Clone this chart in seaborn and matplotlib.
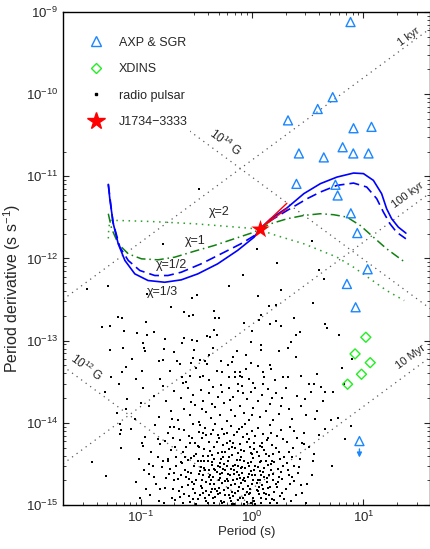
import numpy as np
import matplotlib
matplotlib.use("Agg")
import matplotlib.pyplot as plt
from matplotlib.lines import Line2D
from matplotlib.patches import Rectangle
from matplotlib.ticker import NullFormatter
import seaborn as sns

# ---------------- data ----------------
# AXP & SGR: period (s), period derivative
axp_P = [7.65, 5.29, 3.88, 2.10, 8.14, 11.8, 2.63, 4.4, 6.5, 8.1, 11.1,
         2.5, 5.6, 5.86, 7.7, 8.8, 10.9, 7.1, 8.5]
axp_Pdot = [7.55e-10, 9.2e-11, 6.6e-11, 4.8e-11, 3.85e-11, 4.0e-11, 1.9e-11,
            1.7e-11, 2.26e-11, 1.9e-11, 1.9e-11, 8.1e-12, 7.9e-12, 5.85e-12,
            3.55e-12, 2.04e-12, 7.4e-13, 4.9e-13, 2.55e-13]
# upper limit
axp_ul_P = [9.2]
axp_ul_Pdot = [6.0e-15]

# XDINS
xdins_P = [10.5, 8.4, 11.5, 9.6, 7.2]
xdins_Pdot = [1.1e-13, 6.9e-14, 5.4e-14, 3.9e-14, 2.95e-14]

# J1734-3333
star_P = 1.17
star_Pdot = 2.28e-12
# braking index range lines from the star
red_P = [1.17, 2.05]
red_Pdot_hi = [2.28e-12, 4.7e-12]
red_Pdot_lo = [2.28e-12, 4.05e-12]

# model tracks (log10 P, log10 Pdot)
chi13_logP = [-1.292, -1.277, -1.247, -1.203, -1.143, -1.054, -0.935, -0.786, -0.637,
              -0.488, -0.310, -0.131, 0.018, 0.068, 0.167, 0.315, 0.464, 0.613, 0.762,
              0.911, 1.000, 1.089, 1.163, 1.208, 1.253, 1.313, 1.381]
chi13_logPd = [-11.098, -11.293, -11.577, -11.821, -12.024, -12.187, -12.268, -12.289,
               -12.260, -12.187, -12.065, -11.902, -11.740, -11.642, -11.516, -11.382,
               -11.211, -11.089, -11.009, -10.960, -10.967, -11.049, -11.211, -11.394,
               -11.516, -11.618, -11.691]
chi12_logP = [-1.292, -1.250, -1.188, -1.113, -1.009, -0.875, -0.756, -0.637, -0.458,
              -0.279, -0.101, 0.047, 0.068, 0.167, 0.315, 0.494, 0.613, 0.762, 0.911,
              1.029, 1.119, 1.179, 1.238, 1.297, 1.381]
chi12_logPd = [-11.098, -11.560, -11.862, -12.024, -12.146, -12.207, -12.207, -12.167,
               -12.065, -11.943, -11.821, -11.699, -11.642, -11.537, -11.415, -11.272,
               -11.191, -11.110, -11.082, -11.130, -11.272, -11.435, -11.577, -11.679,
               -11.760]
chi1_logP = [-1.292, -1.262, -1.203, -1.113, -0.994, -0.846, -0.696, -0.518, -0.339,
             -0.161, 0.018, 0.068, 0.167, 0.315, 0.464, 0.613, 0.732, 0.851, 0.971,
             1.089, 1.208, 1.372]
chi1_logPd = [-11.455, -11.638, -11.821, -11.943, -12.004, -12.016, -11.984, -11.911,
              -11.841, -11.760, -11.679, -11.642, -11.577, -11.516, -11.476, -11.455,
              -11.467, -11.496, -11.598, -11.740, -11.882, -12.045]
chi2_logP = [-1.292, -1.288, -1.277, -1.205, -0.920, -0.518, -0.161, 0.068, 0.167, 0.315,
             0.464, 0.613, 0.762, 0.911, 1.060, 1.208, 1.366]
chi2_logPd = [-11.756, -11.634, -11.537, -11.537, -11.549, -11.577, -11.616, -11.642,
              -11.699, -11.760, -11.821, -11.902, -11.984, -12.106, -12.248, -12.390,
              -12.512]

# reference lines
ages_yr = [1e3, 1e5, 1e7]
fields_G = [1e12, 1e14]

# radio pulsars (log10 P, log10 Pdot)
psr_upper = [(-0.473, -11.15), (-0.801, -11.821), (0.047, -11.882), (0.538, -11.789),
             (-1.292, -12.329), (-1.479, -12.37), (0.226, -12.057), (-0.08, -12.195),
             (-0.208, -12.338), (0.604, -12.134), (0.643, -12.248)]
psr_mid = [(-0.944, -12.43), (-0.726, -12.594), (-0.616, -12.655), (-1.203, -12.707),
           (-1.167, -12.723), (-1.277, -12.817), (-1.346, -12.838), (-0.949, -12.777),
           (-1.152, -12.878), (-1.038, -12.911), (-0.884, -12.89), (-0.944, -12.927),
           (-0.979, -13.033), (-0.973, -13.089), (-0.779, -12.979), (-0.631, -13.033),
           (-0.616, -12.967), (-1.277, -13.113), (-1.158, -13.089), (-0.958, -13.13),
           (-0.795, -13.101), (-0.705, -13.143), (-1.078, -13.223), (-0.839, -13.244),
           (-0.804, -13.235), (-0.676, -13.244), (-0.646, -13.284), (-1.137, -13.317),
           (-0.988, -13.366), (-1.167, -13.387), (-0.735, -13.366), (-0.631, -13.448),
           (-1.271, -13.448), (-1.047, -13.467), (-0.824, -13.467), (-0.592, -13.509),
           (-1.196, -13.528),
           (-0.491, -12.443), (-0.542, -12.484), (0.054, -12.455), (0.262, -12.378),
           (0.149, -12.582), (0.217, -12.565), (-0.342, -12.643), (-0.533, -12.683),
           (-0.571, -12.695), (-0.333, -12.723), (-0.297, -12.723), (0.078, -12.683),
           (0.06, -12.744), (-0.071, -12.789), (0.158, -12.796), (0.212, -12.756),
           (0.262, -12.817), (0.375, -12.728), (0.003, -12.878), (-0.339, -12.866),
           (-0.313, -12.927), (-0.408, -12.948), (-0.378, -12.96), (0.431, -12.89),
           (0.39, -12.927), (-0.536, -12.991), (-0.497, -13.009), (-0.012, -13.012),
           (0.078, -13.052), (0.346, -13.021), (-0.348, -13.089), (-0.14, -13.122),
           (0.083, -13.113), (0.238, -13.122), (0.321, -13.089), (-0.518, -13.113),
           (-0.384, -13.174), (-0.051, -13.171), (-0.176, -13.204), (0.396, -13.195),
           (-0.529, -13.216), (-0.467, -13.232), (-0.422, -13.244), (-0.279, -13.244),
           (-0.408, -13.284), (-0.547, -13.277), (-0.006, -13.277), (-0.221, -13.296),
           (-0.185, -13.256), (0.054, -13.305), (0.158, -13.296), (-0.506, -13.333),
           (-0.319, -13.366), (-0.274, -13.387), (-0.154, -13.387), (-0.11, -13.378),
           (-0.051, -13.345), (0.098, -13.387), (0.167, -13.345), (-0.11, -13.427),
           (-0.087, -13.448), (-0.154, -13.448), (-0.438, -13.427), (-0.467, -13.448),
           (-0.556, -13.427), (-0.384, -13.479), (-0.205, -13.448), (-0.029, -13.467),
           (0.009, -13.521), (0.107, -13.448), (0.208, -13.476), (0.277, -13.448),
           (0.321, -13.448), (0.44, -13.427), (0.515, -13.528), (-0.131, -13.528),
           (0.545, -12.545), (0.658, -12.796), (0.67, -12.85), (0.783, -12.927),
           (0.896, -13.228), (0.806, -13.333), (0.58, -13.406), (0.828, -13.528)]
psr_edge = [(0.554, -13.53), (0.658, -13.62), (0.723, -13.62), (0.479, -13.71),
            (0.569, -13.955), (0.771, -13.94), (0.89, -14.04), (0.658, -14.08),
            (0.83, -14.2), (0.464, -14.26), (0.36, -14.42), (0.717, -14.52), (0.55, -14.46),
            (-1.44, -14.48), (-1.31, -14.65), (-0.99, -14.25), (-1.19, -14.14),
            (-1.18, -14.09), (-0.93, -14.5), (-1.01, -14.91), (-1.13, -13.83),
            (-1.19, -14.02), (-0.85, -14.2), (-0.74, -14.05), (-0.76, -14.46)]
psr_band_a = [(-1.32, -13.62), (-1.21, -13.88), (-1.12, -13.71), (-1.05, -13.95), (-0.98, -13.58),
              (-0.93, -13.8), (-0.88, -13.67), (-0.84, -13.93), (-0.8, -13.55), (-0.77, -13.74),
              (-0.73, -13.86), (-0.7, -13.61), (-0.67, -13.97), (-0.64, -13.7), (-0.61, -13.83),
              (-0.58, -13.57), (-0.56, -13.91), (-0.53, -13.66), (-0.51, -13.78), (-0.48, -13.99),
              (-0.46, -13.6), (-0.44, -13.73), (-0.41, -13.87), (-0.39, -13.64), (-0.37, -13.94),
              (-0.35, -13.56), (-0.33, -13.81), (-0.31, -13.69), (-0.29, -13.9), (-0.27, -13.62),
              (-0.25, -13.76), (-0.23, -13.98), (-0.21, -13.58), (-0.19, -13.84), (-0.17, -13.68),
              (-0.15, -13.92), (-0.13, -13.61), (-0.11, -13.79), (-0.09, -13.55), (-0.07, -13.88),
              (-0.05, -13.71), (-0.03, -13.96), (-0.01, -13.63), (0.01, -13.82), (0.03, -13.57),
              (0.05, -13.74), (0.07, -13.93), (0.09, -13.66), (0.12, -13.85), (0.14, -13.59),
              (0.16, -13.77), (0.19, -13.97), (0.21, -13.64), (0.24, -13.89), (0.27, -13.7),
              (0.3, -13.58), (0.33, -13.83), (0.36, -13.95), (0.4, -13.67), (0.44, -13.79),
              (0.48, -13.91), (0.53, -13.62), (0.58, -13.86), (0.64, -13.73), (0.71, -13.97),
              (-0.62, -13.52), (-0.28, -13.54), (0.1, -13.53), (-0.45, -13.83), (-0.2, -13.72),
              (0.0, -13.9), (-0.36, -13.77), (-0.08, -13.64), (0.18, -13.7), (-0.55, -13.75),
              (0.26, -13.8), (-0.72, -13.95), (-1.0, -13.76), (0.62, -13.56)]
psr_band_b = [(-1.18, -14.31), (-1.09, -14.08), (-1.02, -14.44), (-0.96, -14.17), (-0.91, -14.36),
              (-0.87, -14.03), (-0.83, -14.26), (-0.8, -14.47), (-0.76, -14.12), (-0.73, -14.33),
              (-0.7, -14.05), (-0.68, -14.41), (-0.65, -14.21), (-0.63, -14.49), (-0.61, -14.09),
              (-0.59, -14.3), (-0.57, -14.16), (-0.55, -14.43), (-0.53, -14.02), (-0.51, -14.25),
              (-0.5, -14.38), (-0.48, -14.11), (-0.46, -14.46), (-0.45, -14.19), (-0.43, -14.32),
              (-0.42, -14.06), (-0.4, -14.4), (-0.39, -14.23), (-0.37, -14.14), (-0.36, -14.48),
              (-0.34, -14.29), (-0.33, -14.01), (-0.31, -14.37), (-0.3, -14.18), (-0.28, -14.44),
              (-0.27, -14.08), (-0.26, -14.27), (-0.24, -14.35), (-0.23, -14.12), (-0.22, -14.47),
              (-0.2, -14.22), (-0.19, -14.04), (-0.18, -14.39), (-0.16, -14.15), (-0.15, -14.31),
              (-0.14, -14.45), (-0.12, -14.07), (-0.11, -14.26), (-0.1, -14.41), (-0.08, -14.17),
              (-0.07, -14.34), (-0.06, -14.02), (-0.04, -14.49), (-0.03, -14.2), (-0.02, -14.3),
              (0.0, -14.1), (0.01, -14.43), (0.02, -14.24), (0.04, -14.36), (0.05, -14.06),
              (0.07, -14.28), (0.08, -14.46), (0.1, -14.13), (0.11, -14.33), (0.13, -14.21),
              (0.15, -14.4), (0.16, -14.03), (0.18, -14.27), (0.2, -14.48), (0.22, -14.16),
              (0.24, -14.35), (0.26, -14.09), (0.29, -14.42), (0.31, -14.23), (0.34, -14.05),
              (0.37, -14.31), (0.4, -14.19), (0.43, -14.44), (0.47, -14.12), (0.51, -14.29),
              (0.56, -14.38), (0.6, -14.15),
              (-0.98, -14.28), (-0.85, -14.41), (-0.78, -14.22), (-0.71, -14.18), (-0.66, -14.07),
              (-0.62, -14.35), (-0.58, -14.45), (-0.54, -14.18), (-0.49, -14.28), (-0.47, -14.03),
              (-0.44, -14.4), (-0.41, -14.15), (-0.38, -14.34), (-0.35, -14.09), (-0.32, -14.23),
              (-0.29, -14.49), (-0.25, -14.14), (-0.21, -14.32), (-0.17, -14.25), (-0.13, -14.37),
              (-0.09, -14.05), (-0.05, -14.23), (-0.01, -14.37), (0.03, -14.16), (0.06, -14.4),
              (0.09, -14.25), (0.12, -14.47), (0.17, -14.12), (0.21, -14.31), (0.25, -14.44),
              (0.28, -14.2), (0.33, -14.36), (0.38, -14.1), (0.45, -14.25), (-0.26, -14.42),
              (-0.4, -14.47), (-0.14, -14.11), (0.14, -14.19), (-0.56, -14.24), (-0.69, -14.29),
              (-0.48, -14.29), (-0.36, -14.39), (-0.23, -14.24), (-0.11, -14.45), (0.0, -14.38),
              (0.09, -14.29), (-0.31, -14.15), (-0.18, -14.3), (-0.05, -14.14), (0.19, -14.38),
              (-0.6, -14.42), (-0.44, -14.12), (-0.64, -14.48)]
psr_band_c = [(-1.04, -14.72), (-0.97, -14.58), (-0.92, -14.88), (-0.88, -14.66), (-0.84, -14.95),
              (-0.81, -14.54), (-0.78, -14.79), (-0.75, -14.62), (-0.72, -14.91), (-0.7, -14.7),
              (-0.68, -14.52), (-0.66, -14.83), (-0.64, -14.64), (-0.62, -14.97), (-0.6, -14.57),
              (-0.58, -14.76), (-0.57, -14.89), (-0.55, -14.61), (-0.53, -14.81), (-0.52, -14.53),
              (-0.5, -14.69), (-0.49, -14.93), (-0.47, -14.59), (-0.46, -14.77), (-0.44, -14.86),
              (-0.43, -14.55), (-0.41, -14.72), (-0.4, -14.98), (-0.38, -14.63), (-0.37, -14.84),
              (-0.36, -14.51), (-0.34, -14.74), (-0.33, -14.9), (-0.32, -14.6), (-0.3, -14.79),
              (-0.29, -14.67), (-0.28, -14.95), (-0.26, -14.56), (-0.25, -14.82), (-0.24, -14.71),
              (-0.23, -14.53), (-0.21, -14.88), (-0.2, -14.64), (-0.19, -14.76), (-0.18, -14.99),
              (-0.16, -14.58), (-0.15, -14.85), (-0.14, -14.68), (-0.13, -14.52), (-0.11, -14.92),
              (-0.1, -14.73), (-0.09, -14.61), (-0.08, -14.8), (-0.06, -14.55), (-0.05, -14.96),
              (-0.04, -14.66), (-0.03, -14.87), (-0.01, -14.59), (0.0, -14.75), (0.01, -14.91),
              (0.03, -14.63), (0.04, -14.82), (0.05, -14.54), (0.07, -14.7), (0.08, -14.97),
              (0.1, -14.6), (0.11, -14.85), (0.13, -14.67), (0.14, -14.51), (0.16, -14.78),
              (0.18, -14.93), (0.19, -14.62), (0.21, -14.74), (0.23, -14.56), (0.25, -14.89),
              (0.27, -14.68), (0.3, -14.8), (0.32, -14.58), (0.35, -14.95), (0.38, -14.71),
              (0.41, -14.61), (0.45, -14.86), (0.49, -14.74), (0.54, -14.64),
              (-0.95, -14.81), (-0.86, -14.74), (-0.79, -14.98), (-0.74, -14.56), (-0.71, -14.81),
              (-0.67, -14.68), (-0.63, -14.78), (-0.59, -14.66), (-0.56, -14.96), (-0.54, -14.72),
              (-0.51, -14.85), (-0.48, -14.62), (-0.45, -14.7), (-0.42, -14.91), (-0.39, -14.57),
              (-0.35, -14.66), (-0.31, -14.87), (-0.27, -14.73), (-0.22, -14.62), (-0.17, -14.69),
              (-0.12, -14.78), (-0.07, -14.67), (-0.02, -14.8), (0.02, -14.57), (0.06, -14.87),
              (0.09, -14.76), (0.12, -14.93), (0.15, -14.64), (0.2, -14.84), (0.24, -14.66),
              (0.28, -14.53), (0.34, -14.75), (0.39, -14.88), (-0.46, -14.54), (-0.34, -14.97),
              (-0.2, -14.92), (-0.09, -14.54), (0.05, -14.69), (0.17, -14.57), (-0.61, -14.87),
              (-0.44, -14.64), (-0.41, -14.83), (-0.38, -14.75), (-0.35, -14.92), (-0.33, -14.57),
              (-0.3, -14.7), (-0.27, -14.61), (-0.25, -14.96), (-0.22, -14.79), (-0.19, -14.56),
              (-0.17, -14.89), (-0.14, -14.6), (-0.11, -14.67), (-0.08, -14.92), (-0.06, -14.71),
              (-0.03, -14.52), (0.0, -14.64), (0.02, -14.95), (0.04, -14.73), (0.07, -14.59),
              (0.1, -14.81), (0.13, -14.72), (0.16, -14.98), (0.19, -14.7), (-0.29, -14.54),
              (-0.13, -14.83), (-0.24, -14.88), (-0.02, -14.86), (0.11, -14.55), (-0.36, -14.8),
              (-0.52, -14.4), (-0.47, -14.88), (-0.43, -14.47), (-0.39, -14.66), (-0.34, -14.44),
              (-0.31, -14.53), (-0.27, -14.35), (-0.23, -14.68), (-0.21, -14.42), (-0.18, -14.84),
              (-0.15, -14.51), (-0.12, -14.64), (-0.1, -14.33), (-0.07, -14.47), (-0.04, -14.77),
              (-0.01, -14.48), (0.02, -14.32), (0.05, -14.83), (0.08, -14.64), (0.12, -14.38),
              (0.15, -14.88), (0.18, -14.46), (0.22, -14.78), (0.26, -14.6), (0.31, -14.49),
              (0.36, -14.66), (-0.58, -14.6), (-0.65, -14.9), (-0.76, -14.44), (-0.89, -14.52),
              (0.42, -14.54), (0.48, -14.97), (-0.33, -14.8), (-0.16, -14.99), (0.03, -14.99),
              (-0.5, -14.99), (0.22, -14.98), (-0.7, -14.61), (0.29, -14.93), (-0.06, -14.88),
              (-0.57, -14.68), (-0.53, -14.93), (-0.49, -14.47), (-0.45, -14.79), (-0.42, -14.58),
              (-0.39, -14.88), (-0.37, -14.69), (-0.34, -14.56), (-0.32, -14.83), (-0.29, -14.62),
              (-0.27, -14.98), (-0.24, -14.58), (-0.22, -14.71), (-0.19, -14.95), (-0.17, -14.52),
              (-0.15, -14.74), (-0.13, -14.94), (-0.1, -14.55), (-0.08, -14.7), (-0.05, -14.84),
              (-0.03, -14.62), (-0.01, -14.97), (0.01, -14.69), (0.03, -14.52), (0.06, -14.78),
              (0.08, -14.91), (0.11, -14.66), (0.14, -14.79), (0.17, -14.5), (0.2, -14.94),
              (0.23, -14.72), (0.27, -14.86), (-0.25, -14.5), (0.07, -14.48), (-0.16, -14.62),
              (-0.41, -14.95), (-0.07, -14.99), (0.12, -14.87), (-0.29, -14.86), (-0.52, -14.74),
              (0.33, -14.64), (-0.83, -14.8), (-0.77, -14.67), (-0.69, -14.94), (-0.93, -14.62),
              (0.38, -14.53), (0.44, -14.76)]

# ---------------- style ----------------
sns.set_style("ticks")
plt.rcParams["font.family"] = ["Liberation Sans", "DejaVu Sans"]
plt.rcParams["mathtext.fontset"] = "custom"
plt.rcParams["mathtext.rm"] = "Liberation Sans"
plt.rcParams["mathtext.it"] = "Liberation Sans:italic"
plt.rcParams["mathtext.default"] = "regular"

axp_col = "#1a86ff"
xdins_col = "#22ee22"
grey = "0.35"

fig = plt.figure(figsize=(4.31, 5.49), dpi=100)
ax = fig.add_axes([63 / 431, 44 / 549, 367.5 / 431, 493 / 549])
ax.set_xscale("log")
ax.set_yscale("log")
ax.set_xlim(0.02, 40)
ax.set_ylim(1e-15, 1e-9)

# reference lines
P_line = np.array([0.02, 40])
for tau in ages_yr:
    ax.plot(P_line, P_line / (2 * tau * 3.156e7), color=grey, lw=0.9,
            dashes=(1, 3.5), zorder=1)
for B in fields_G:
    ax.plot(P_line, (B / 3.2e19) ** 2 / P_line, color=grey, lw=0.9,
            dashes=(1, 3.5), zorder=1)

# white legend background (hides the lines behind the legend, not the axes)
ax.add_patch(Rectangle((0.0, 0.745), 0.345, 0.255, transform=ax.transAxes,
                       facecolor="white", edgecolor="none", zorder=1.5))

# radio pulsars
psr = np.array(psr_upper + psr_mid + psr_edge + psr_band_a + psr_band_b + psr_band_c)
sns.scatterplot(x=10 ** psr[:, 0], y=10 ** psr[:, 1], s=4, color="k", marker="s",
                linewidth=0, ax=ax, zorder=2)

# model tracks
ax.plot(10 ** np.array(chi2_logP), 10 ** np.array(chi2_logPd), color="#2aa02a",
        lw=1.1, dashes=(1, 3), zorder=3)
ax.plot(10 ** np.array(chi1_logP), 10 ** np.array(chi1_logPd), color="#108010",
        lw=1.1, dashes=(6, 2.5, 1, 2.5), zorder=3)
ax.plot(10 ** np.array(chi12_logP), 10 ** np.array(chi12_logPd), color="#0000ff",
        lw=1.2, dashes=(6, 3), zorder=3)
ax.plot(10 ** np.array(chi13_logP), 10 ** np.array(chi13_logPd), color="#0000ff",
        lw=1.2, zorder=3)
ax.plot(red_P, red_Pdot_hi, color="red", lw=1.0, zorder=4)
ax.plot(red_P, red_Pdot_lo, color="red", lw=1.0, zorder=4)

# magnetars, XDINS, J1734
sns.scatterplot(x=axp_P + axp_ul_P, y=axp_Pdot + axp_ul_Pdot, marker="^", s=42,
                facecolor="none", edgecolor=axp_col, linewidth=1.0, ax=ax, zorder=5)
ax.annotate("", xy=(axp_ul_P[0], 3.5e-15), xytext=(axp_ul_P[0], 5.2e-15),
            arrowprops=dict(arrowstyle="-|>", color=axp_col, lw=1.0,
                            mutation_scale=7), zorder=5)
sns.scatterplot(x=xdins_P, y=xdins_Pdot, marker="D", s=26, facecolor="none",
                edgecolor=xdins_col, linewidth=1.0, ax=ax, zorder=5)
ax.scatter([star_P], [star_Pdot], marker="*", s=190, color="red", linewidth=0, zorder=6)

# labels on lines
rot = 36.4
ax.text(25.7, 4.97e-10, "1 kyr", rotation=rot, fontsize=8, ha="center", va="center",
        rotation_mode="anchor")
ax.text(25.2, 5.94e-12, "100 kyr", rotation=rot, fontsize=8, ha="center", va="center",
        rotation_mode="anchor")
ax.text(26.8, 6.35e-14, "10 Myr", rotation=rot, fontsize=8, ha="center", va="center",
        rotation_mode="anchor")
ax.text(0.572, 2.55e-11, "10$^{14}$ G", rotation=-rot, fontsize=8.5, ha="center",
        va="center", rotation_mode="anchor")
ax.text(0.0323, 4.67e-14, "10$^{12}$ G", rotation=-rot, fontsize=8.5, ha="center",
        va="center", rotation_mode="anchor")
ax.text(0.505, 3.69e-12, "χ=2", fontsize=9, ha="center", va="center")
ax.text(0.307, 1.64e-12, "χ=1", fontsize=9, ha="center", va="center")
ax.text(0.187, 8.36e-13, "χ=1/2", fontsize=9, ha="center", va="center")
ax.text(0.158, 3.93e-13, "χ=1/3", fontsize=9, ha="center", va="center")

# legend
handles = [
    Line2D([], [], ls="none", marker="^", mfc="none", mec=axp_col, ms=6.5, mew=1.0),
    Line2D([], [], ls="none", marker="D", mfc="none", mec=xdins_col, ms=5, mew=1.0),
    Line2D([], [], ls="none", marker="s", color="k", ms=1.5),
    Line2D([], [], ls="none", marker="*", color="red", mec="red", ms=13),
]
labels = ["AXP & SGR", "XDINS", "radio pulsar", "J1734\u22123333"]
leg = ax.legend(handles, labels, loc="upper left", bbox_to_anchor=(0.03, 0.975),
                frameon=False, fontsize=9, labelspacing=1.15, handletextpad=1.1,
                borderpad=0.5, handlelength=1.5)
leg.set_zorder(10)

ax.set_xlabel("Period (s)", fontsize=9.5, labelpad=1)
ax.set_ylabel("Period derivative (s s$^{-1}$)", fontsize=11.5)
ax.yaxis.set_label_coords(-0.11, 0.44)
ax.xaxis.set_minor_formatter(NullFormatter())
ax.yaxis.set_minor_formatter(NullFormatter())
ax.tick_params(which="both", direction="in", top=True, right=True, labelsize=9.5)
ax.tick_params(which="major", length=4, width=0.8)
ax.tick_params(which="minor", length=2, width=0.6)
for s in ax.spines.values():
    s.set_linewidth(1.0)
    s.set_color("k")

fig.savefig("out.png", dpi=100)
